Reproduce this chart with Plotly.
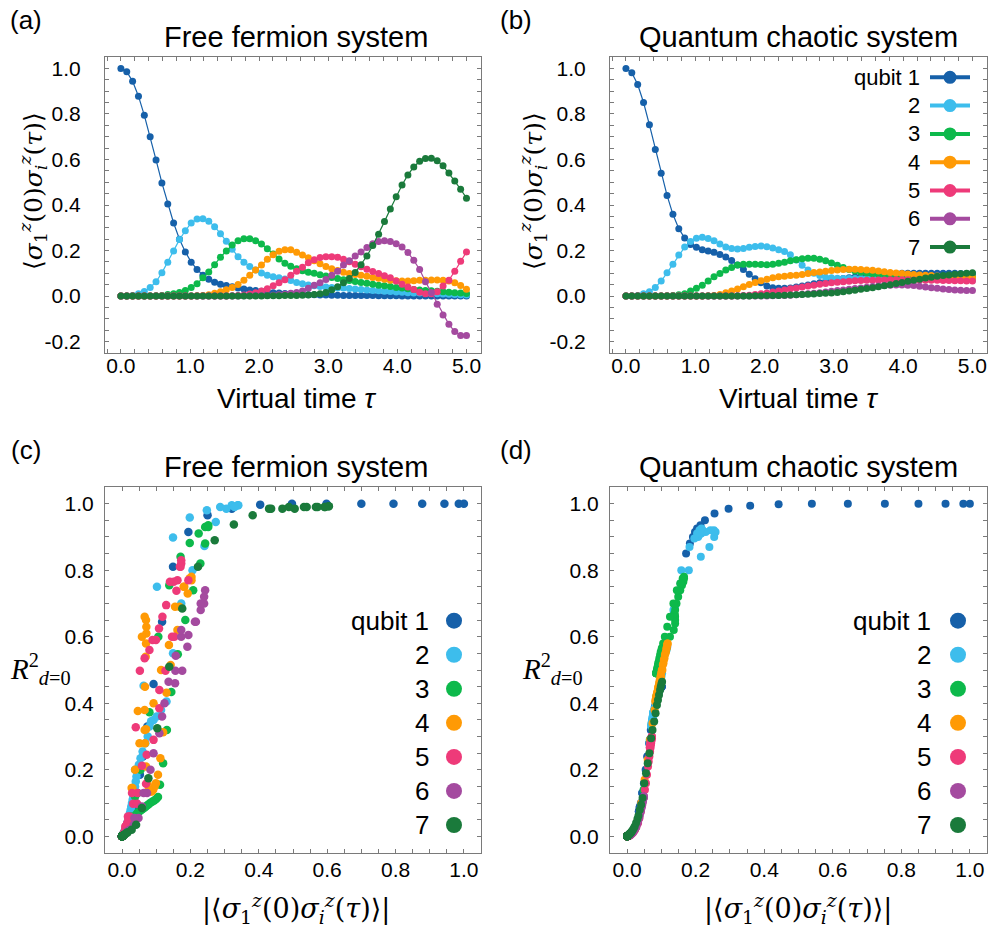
import numpy as np
import plotly.graph_objects as go

# ---------------- data ----------------
tau = np.linspace(0, 5, 60)
qubit_labels = ["qubit 1", "2", "3", "4", "5", "6", "7"]
colors = ["#1660a9", "#3dbdec", "#0db94b", "#ff9a05", "#ee3a79", "#a44a9f", "#1a7a3b"]

# (a) free fermion correlators
ff_corr_q1 = [1.000, 0.985, 0.943, 0.878, 0.794, 0.700, 0.598, 0.497, 0.404, 0.321,
              0.250, 0.194, 0.149, 0.117, 0.092, 0.074, 0.061, 0.052, 0.046, 0.041,
              0.036, 0.031, 0.027, 0.024, 0.021, 0.018, 0.015, 0.013, 0.011, 0.010,
              0.008, 0.007, 0.006, 0.006, 0.005, 0.005, 0.004, 0.004, 0.003, 0.003,
              0.003, 0.002, 0.002, 0.002, 0.001, 0.001, 0.001, 0.001, 0.000, 0.000,
              0.000, 0.000, 0.000, 0.000, 0.000, 0.000, 0.000, 0.000, 0.000, 0.000]
ff_corr_q2 = [0.000, 0.000, 0.003, 0.010, 0.020, 0.038, 0.063, 0.102, 0.149, 0.198,
              0.248, 0.287, 0.321, 0.338, 0.340, 0.329, 0.305, 0.274, 0.241, 0.206,
              0.173, 0.149, 0.130, 0.114, 0.101, 0.092, 0.085, 0.080, 0.075, 0.068,
              0.060, 0.054, 0.049, 0.045, 0.042, 0.040, 0.038, 0.036, 0.035, 0.033,
              0.031, 0.029, 0.027, 0.025, 0.023, 0.021, 0.020, 0.018, 0.017, 0.015,
              0.014, 0.013, 0.012, 0.011, 0.010, 0.009, 0.008, 0.007, 0.006, 0.005]
ff_corr_q3 = [0.000, 0.000, 0.000, 0.000, 0.000, 0.000, 0.001, 0.003, 0.007, 0.010,
              0.016, 0.025, 0.038, 0.054, 0.080, 0.106, 0.138, 0.171, 0.198, 0.224,
              0.243, 0.252, 0.252, 0.243, 0.229, 0.208, 0.185, 0.163, 0.144, 0.131,
              0.120, 0.111, 0.105, 0.100, 0.094, 0.088, 0.082, 0.077, 0.072, 0.068,
              0.064, 0.060, 0.056, 0.052, 0.048, 0.045, 0.042, 0.038, 0.035, 0.032,
              0.029, 0.027, 0.025, 0.023, 0.021, 0.019, 0.017, 0.015, 0.013, 0.011]
ff_corr_q4 = [0.000, 0.000, 0.000, 0.000, 0.000, 0.000, 0.000, 0.000, 0.000, 0.000,
              0.000, 0.000, 0.000, 0.001, 0.003, 0.006, 0.012, 0.019, 0.028, 0.038,
              0.051, 0.070, 0.092, 0.114, 0.137, 0.162, 0.182, 0.197, 0.203, 0.203,
              0.192, 0.180, 0.168, 0.155, 0.142, 0.130, 0.120, 0.112, 0.105, 0.099,
              0.095, 0.091, 0.087, 0.082, 0.078, 0.074, 0.070, 0.067, 0.066, 0.066,
              0.067, 0.069, 0.070, 0.071, 0.071, 0.070, 0.066, 0.058, 0.046, 0.030]
ff_corr_q5 = [0.000, 0.000, 0.000, 0.000, 0.000, 0.000, 0.000, 0.000, 0.000, 0.000,
              0.000, 0.000, 0.000, 0.000, 0.000, 0.000, 0.000, 0.000, 0.000, 0.001,
              0.002, 0.005, 0.009, 0.015, 0.022, 0.032, 0.045, 0.058, 0.072, 0.092,
              0.109, 0.127, 0.146, 0.159, 0.169, 0.173, 0.173, 0.171, 0.162, 0.151,
              0.140, 0.129, 0.118, 0.108, 0.099, 0.089, 0.080, 0.066, 0.052, 0.040,
              0.029, 0.017, 0.010, 0.010, 0.019, 0.044, 0.070, 0.109, 0.153, 0.194]
ff_corr_q6 = [0.000, 0.000, 0.000, 0.000, 0.000, 0.000, 0.000, 0.000, 0.000, 0.000,
              0.000, 0.000, 0.000, 0.000, 0.000, 0.000, 0.000, 0.000, 0.000, 0.000,
              0.000, 0.001, 0.001, 0.002, 0.002, 0.003, 0.004, 0.006, 0.008, 0.012,
              0.016, 0.022, 0.034, 0.048, 0.058, 0.073, 0.092, 0.109, 0.136, 0.155,
              0.176, 0.194, 0.213, 0.230, 0.240, 0.243, 0.240, 0.230, 0.216, 0.191,
              0.157, 0.117, 0.063, 0.016, -0.036, -0.083, -0.124, -0.156, -0.173, -0.173]
ff_corr_q7 = [0.000, 0.000, 0.000, 0.000, 0.000, 0.000, 0.000, 0.000, 0.000, 0.000,
              0.000, 0.000, 0.000, 0.000, 0.000, 0.000, 0.000, 0.000, 0.000, 0.000,
              0.000, 0.000, 0.000, 0.000, 0.000, 0.001, 0.001, 0.001, 0.002, 0.002,
              0.003, 0.004, 0.005, 0.007, 0.010, 0.016, 0.028, 0.041, 0.058, 0.077,
              0.103, 0.138, 0.176, 0.222, 0.271, 0.327, 0.382, 0.436, 0.488, 0.532,
              0.567, 0.592, 0.604, 0.605, 0.594, 0.572, 0.540, 0.505, 0.469, 0.430]

# (b) quantum chaotic correlators
ch_corr_q1 = [1.000, 0.981, 0.929, 0.850, 0.752, 0.644, 0.539, 0.442, 0.359, 0.296,
              0.255, 0.227, 0.214, 0.204, 0.198, 0.192, 0.183, 0.172, 0.156, 0.137,
              0.117, 0.096, 0.076, 0.059, 0.044, 0.037, 0.034, 0.034, 0.036, 0.040,
              0.044, 0.049, 0.054, 0.059, 0.064, 0.069, 0.073, 0.077, 0.081, 0.084,
              0.088, 0.091, 0.093, 0.095, 0.097, 0.098, 0.099, 0.100, 0.100, 0.100,
              0.100, 0.100, 0.100, 0.100, 0.100, 0.100, 0.100, 0.099, 0.099, 0.098]
ch_corr_q2 = [0.000, 0.000, 0.002, 0.010, 0.019, 0.038, 0.066, 0.102, 0.140, 0.180,
              0.215, 0.240, 0.254, 0.258, 0.253, 0.243, 0.229, 0.216, 0.209, 0.207,
              0.209, 0.214, 0.218, 0.220, 0.217, 0.211, 0.204, 0.196, 0.182, 0.158,
              0.135, 0.115, 0.100, 0.090, 0.083, 0.080, 0.078, 0.077, 0.077, 0.077,
              0.077, 0.077, 0.077, 0.077, 0.077, 0.077, 0.076, 0.076, 0.075, 0.075,
              0.074, 0.074, 0.073, 0.073, 0.072, 0.072, 0.071, 0.071, 0.070, 0.070]
ch_corr_q3 = [0.000, 0.000, 0.000, 0.000, 0.000, 0.000, 0.000, 0.001, 0.003, 0.006,
              0.010, 0.022, 0.034, 0.048, 0.066, 0.085, 0.099, 0.114, 0.125, 0.136,
              0.140, 0.140, 0.140, 0.139, 0.138, 0.140, 0.144, 0.149, 0.155, 0.160,
              0.164, 0.166, 0.166, 0.162, 0.155, 0.145, 0.135, 0.125, 0.117, 0.110,
              0.105, 0.101, 0.098, 0.096, 0.094, 0.092, 0.091, 0.090, 0.089, 0.088,
              0.087, 0.087, 0.086, 0.086, 0.085, 0.085, 0.085, 0.085, 0.085, 0.085]
ch_corr_q4 = [0.000, 0.000, 0.000, 0.000, 0.000, 0.000, 0.000, 0.000, 0.000, 0.000,
              0.000, 0.000, 0.000, 0.000, 0.001, 0.003, 0.007, 0.015, 0.022, 0.031,
              0.041, 0.051, 0.060, 0.067, 0.074, 0.080, 0.085, 0.087, 0.090, 0.092,
              0.095, 0.099, 0.103, 0.106, 0.109, 0.112, 0.115, 0.117, 0.118, 0.118,
              0.117, 0.115, 0.113, 0.110, 0.107, 0.104, 0.101, 0.099, 0.097, 0.095,
              0.093, 0.091, 0.090, 0.088, 0.087, 0.086, 0.085, 0.084, 0.083, 0.082]
ch_corr_q5 = [0.000, 0.000, 0.000, 0.000, 0.000, 0.000, 0.000, 0.000, 0.000, 0.000,
              0.000, 0.000, 0.000, 0.000, 0.000, 0.000, 0.000, 0.000, 0.000, 0.001,
              0.002, 0.004, 0.007, 0.010, 0.014, 0.018, 0.022, 0.027, 0.032, 0.036,
              0.040, 0.044, 0.048, 0.052, 0.055, 0.058, 0.061, 0.063, 0.065, 0.067,
              0.068, 0.069, 0.070, 0.071, 0.071, 0.072, 0.072, 0.072, 0.072, 0.071,
              0.071, 0.070, 0.070, 0.069, 0.068, 0.068, 0.067, 0.067, 0.066, 0.066]
ch_corr_q6 = [0.000, 0.000, 0.000, 0.000, 0.000, 0.000, 0.000, 0.000, 0.000, 0.000,
              0.000, 0.000, 0.000, 0.000, 0.000, 0.000, 0.000, 0.000, 0.000, 0.000,
              0.000, 0.000, 0.000, 0.000, 0.000, 0.001, 0.002, 0.003, 0.004, 0.006,
              0.008, 0.010, 0.012, 0.015, 0.018, 0.021, 0.024, 0.027, 0.030, 0.033,
              0.036, 0.039, 0.042, 0.044, 0.046, 0.048, 0.049, 0.049, 0.048, 0.046,
              0.043, 0.040, 0.037, 0.034, 0.031, 0.029, 0.027, 0.026, 0.025, 0.025]
ch_corr_q7 = [0.000, 0.000, 0.000, 0.000, 0.000, 0.000, 0.000, 0.000, 0.000, 0.000,
              0.000, 0.000, 0.000, 0.000, 0.000, 0.000, 0.000, 0.000, 0.000, 0.000,
              0.000, 0.000, 0.001, 0.001, 0.002, 0.002, 0.003, 0.004, 0.005, 0.006,
              0.007, 0.008, 0.009, 0.011, 0.012, 0.014, 0.016, 0.019, 0.022, 0.026,
              0.030, 0.033, 0.037, 0.041, 0.045, 0.050, 0.055, 0.060, 0.065, 0.070,
              0.074, 0.079, 0.083, 0.087, 0.090, 0.093, 0.096, 0.098, 0.100, 0.102]

# (c) free fermion R^2_{d=0}
ff_r2_q1 = [1.000, 1.000, 1.000, 1.000, 1.000, 1.000, 1.000, 1.000, 0.997, 0.985,
            0.965, 0.915, 0.810, 0.645, 0.458, 0.330, 0.240, 0.185, 0.130, 0.100,
            0.080, 0.065, 0.055, 0.045, 0.040, 0.035, 0.030, 0.025, 0.020, 0.018,
            0.014, 0.012, 0.010, 0.010, 0.008, 0.008, 0.006, 0.006, 0.005, 0.005,
            0.004, 0.003, 0.003, 0.003, 0.002, 0.002, 0.002, 0.002, 0.000, 0.000,
            0.000, 0.000, 0.000, 0.000, 0.000, 0.000, 0.000, 0.000, 0.000, 0.000]
ff_r2_q2 = [0.000, 0.000, 0.002, 0.010, 0.050, 0.200, 0.453, 0.750, 0.898, 0.958,
            0.980, 0.990, 0.995, 0.995, 0.995, 0.990, 0.985, 0.945, 0.873, 0.800,
            0.700, 0.550, 0.405, 0.380, 0.360, 0.350, 0.346, 0.330, 0.300, 0.280,
            0.255, 0.235, 0.215, 0.195, 0.180, 0.165, 0.150, 0.140, 0.130, 0.120,
            0.110, 0.100, 0.090, 0.080, 0.070, 0.062, 0.055, 0.050, 0.045, 0.040,
            0.035, 0.030, 0.027, 0.024, 0.021, 0.018, 0.015, 0.012, 0.010, 0.008]
ff_r2_q3 = [0.000, 0.000, 0.000, 0.000, 0.000, 0.000, 0.002, 0.005, 0.010, 0.015,
            0.030, 0.060, 0.120, 0.200, 0.373, 0.600, 0.755, 0.840, 0.882, 0.910,
            0.930, 0.935, 0.930, 0.880, 0.820, 0.740, 0.650, 0.547, 0.434, 0.320,
            0.220, 0.155, 0.118, 0.112, 0.108, 0.104, 0.100, 0.096, 0.092, 0.088,
            0.085, 0.082, 0.079, 0.076, 0.073, 0.070, 0.066, 0.062, 0.058, 0.054,
            0.050, 0.046, 0.042, 0.038, 0.034, 0.030, 0.026, 0.022, 0.018, 0.015]
ff_r2_q4 = [0.000, 0.000, 0.000, 0.000, 0.000, 0.000, 0.000, 0.000, 0.000, 0.000,
            0.000, 0.000, 0.000, 0.001, 0.003, 0.008, 0.020, 0.050, 0.145, 0.200,
            0.280, 0.322, 0.400, 0.500, 0.575, 0.620, 0.750, 0.775, 0.780, 0.770,
            0.730, 0.750, 0.690, 0.690, 0.515, 0.432, 0.313, 0.235, 0.185, 0.160,
            0.150, 0.140, 0.135, 0.135, 0.140, 0.160, 0.210, 0.280, 0.320, 0.380,
            0.450, 0.540, 0.580, 0.610, 0.630, 0.650, 0.660, 0.600, 0.377, 0.145]
ff_r2_q5 = [0.000, 0.000, 0.000, 0.000, 0.000, 0.000, 0.000, 0.000, 0.000, 0.000,
            0.000, 0.000, 0.000, 0.000, 0.000, 0.000, 0.000, 0.000, 0.000, 0.000,
            0.002, 0.010, 0.020, 0.040, 0.060, 0.098, 0.130, 0.212, 0.245, 0.290,
            0.385, 0.498, 0.600, 0.738, 0.810, 0.830, 0.820, 0.810, 0.770, 0.765,
            0.765, 0.695, 0.660, 0.625, 0.590, 0.590, 0.560, 0.535, 0.498, 0.328,
            0.130, 0.060, 0.030, 0.030, 0.050, 0.098, 0.158, 0.440, 0.600, 0.770]
ff_r2_q6 = [0.000, 0.000, 0.000, 0.000, 0.000, 0.000, 0.000, 0.000, 0.000, 0.000,
            0.000, 0.000, 0.000, 0.000, 0.000, 0.000, 0.000, 0.000, 0.000, 0.000,
            0.000, 0.000, 0.000, 0.001, 0.001, 0.002, 0.003, 0.005, 0.007, 0.010,
            0.014, 0.020, 0.035, 0.055, 0.090, 0.130, 0.250, 0.310, 0.465, 0.460,
            0.498, 0.605, 0.645, 0.680, 0.700, 0.740, 0.720, 0.700, 0.645, 0.570,
            0.543, 0.360, 0.130, 0.015, 0.055, 0.200, 0.400, 0.498, 0.600, 0.620]
ff_r2_q7 = [0.000, 0.000, 0.000, 0.000, 0.000, 0.000, 0.000, 0.000, 0.000, 0.000,
            0.000, 0.000, 0.000, 0.000, 0.000, 0.000, 0.000, 0.000, 0.000, 0.000,
            0.000, 0.000, 0.000, 0.000, 0.000, 0.001, 0.001, 0.001, 0.001, 0.002,
            0.002, 0.003, 0.004, 0.005, 0.008, 0.012, 0.020, 0.035, 0.085, 0.175,
            0.325, 0.510, 0.685, 0.810, 0.890, 0.937, 0.965, 0.985, 0.990, 0.990,
            0.990, 0.990, 0.992, 0.992, 0.990, 0.990, 0.990, 0.985, 0.985, 0.985]

# (d) quantum chaotic R^2_{d=0}
ch_r2_q1 = [1.000, 1.000, 1.000, 1.000, 1.000, 1.000, 1.000, 0.998, 0.994, 0.985,
            0.970, 0.950, 0.935, 0.925, 0.915, 0.900, 0.880, 0.850, 0.760, 0.670,
            0.570, 0.460, 0.360, 0.240, 0.130, 0.090, 0.075, 0.075, 0.085, 0.100,
            0.130, 0.160, 0.200, 0.240, 0.280, 0.320, 0.345, 0.370, 0.390, 0.405,
            0.420, 0.430, 0.435, 0.440, 0.445, 0.450, 0.450, 0.450, 0.450, 0.450,
            0.450, 0.450, 0.450, 0.450, 0.450, 0.450, 0.450, 0.448, 0.448, 0.446]
ch_r2_q2 = [0.000, 0.000, 0.001, 0.005, 0.015, 0.080, 0.280, 0.490, 0.690, 0.800,
            0.840, 0.870, 0.900, 0.915, 0.920, 0.920, 0.915, 0.910, 0.905, 0.900,
            0.905, 0.910, 0.915, 0.920, 0.925, 0.920, 0.910, 0.895, 0.870, 0.800,
            0.680, 0.560, 0.480, 0.430, 0.400, 0.385, 0.378, 0.372, 0.372, 0.372,
            0.372, 0.372, 0.372, 0.372, 0.372, 0.372, 0.368, 0.368, 0.362, 0.362,
            0.356, 0.356, 0.350, 0.350, 0.344, 0.344, 0.338, 0.338, 0.332, 0.332]
ch_r2_q3 = [0.000, 0.000, 0.000, 0.000, 0.000, 0.000, 0.000, 0.001, 0.002, 0.004,
            0.008, 0.020, 0.060, 0.140, 0.290, 0.420, 0.480, 0.560, 0.600, 0.620,
            0.640, 0.650, 0.660, 0.665, 0.670, 0.680, 0.700, 0.720, 0.740, 0.755,
            0.765, 0.775, 0.780, 0.775, 0.760, 0.740, 0.700, 0.660, 0.630, 0.600,
            0.580, 0.565, 0.555, 0.545, 0.535, 0.525, 0.520, 0.515, 0.510, 0.505,
            0.500, 0.500, 0.495, 0.495, 0.490, 0.490, 0.490, 0.490, 0.490, 0.490]
ch_r2_q4 = [0.000, 0.000, 0.000, 0.000, 0.000, 0.000, 0.000, 0.000, 0.000, 0.000,
            0.000, 0.000, 0.000, 0.000, 0.001, 0.002, 0.004, 0.010, 0.020, 0.050,
            0.100, 0.170, 0.230, 0.290, 0.340, 0.380, 0.410, 0.425, 0.440, 0.450,
            0.465, 0.480, 0.500, 0.520, 0.535, 0.550, 0.565, 0.575, 0.580, 0.580,
            0.575, 0.565, 0.555, 0.545, 0.530, 0.515, 0.500, 0.490, 0.480, 0.470,
            0.460, 0.450, 0.445, 0.435, 0.430, 0.425, 0.420, 0.415, 0.410, 0.405]
ch_r2_q5 = [0.000, 0.000, 0.000, 0.000, 0.000, 0.000, 0.000, 0.000, 0.000, 0.000,
            0.000, 0.000, 0.000, 0.000, 0.000, 0.000, 0.000, 0.000, 0.000, 0.000,
            0.000, 0.001, 0.002, 0.004, 0.008, 0.012, 0.018, 0.028, 0.040, 0.055,
            0.075, 0.095, 0.115, 0.140, 0.160, 0.185, 0.210, 0.225, 0.240, 0.255,
            0.265, 0.272, 0.280, 0.287, 0.290, 0.295, 0.298, 0.300, 0.300, 0.298,
            0.295, 0.292, 0.290, 0.285, 0.280, 0.278, 0.274, 0.272, 0.268, 0.266]
ch_r2_q6 = [0.000, 0.000, 0.000, 0.000, 0.000, 0.000, 0.000, 0.000, 0.000, 0.000,
            0.000, 0.000, 0.000, 0.000, 0.000, 0.000, 0.000, 0.000, 0.000, 0.000,
            0.000, 0.000, 0.000, 0.000, 0.000, 0.000, 0.001, 0.001, 0.002, 0.003,
            0.004, 0.005, 0.007, 0.010, 0.014, 0.019, 0.025, 0.032, 0.040, 0.050,
            0.060, 0.072, 0.085, 0.095, 0.105, 0.115, 0.120, 0.120, 0.115, 0.105,
            0.090, 0.078, 0.066, 0.055, 0.045, 0.038, 0.032, 0.029, 0.027, 0.027]
ch_r2_q7 = [0.000, 0.000, 0.000, 0.000, 0.000, 0.000, 0.000, 0.000, 0.000, 0.000,
            0.000, 0.000, 0.000, 0.000, 0.000, 0.000, 0.000, 0.000, 0.000, 0.000,
            0.000, 0.000, 0.001, 0.001, 0.002, 0.002, 0.003, 0.004, 0.005, 0.006,
            0.007, 0.008, 0.009, 0.011, 0.012, 0.015, 0.018, 0.024, 0.030, 0.040,
            0.052, 0.062, 0.080, 0.095, 0.115, 0.160, 0.190, 0.220, 0.250, 0.295,
            0.320, 0.345, 0.370, 0.395, 0.410, 0.425, 0.440, 0.450, 0.458, 0.465]

ff_corr = [ff_corr_q1, ff_corr_q2, ff_corr_q3, ff_corr_q4, ff_corr_q5, ff_corr_q6, ff_corr_q7]
ch_corr = [ch_corr_q1, ch_corr_q2, ch_corr_q3, ch_corr_q4, ch_corr_q5, ch_corr_q6, ch_corr_q7]
ff_r2 = [ff_r2_q1, ff_r2_q2, ff_r2_q3, ff_r2_q4, ff_r2_q5, ff_r2_q6, ff_r2_q7]
ch_r2 = [ch_r2_q1, ch_r2_q2, ch_r2_q3, ch_r2_q4, ch_r2_q5, ch_r2_q6, ch_r2_q7]

# ---------------- figure ----------------
W, H = 995, 932
SANS = "Liberation Sans, Arial, Helvetica, sans-serif"
SERIF = "DejaVu Serif, Liberation Serif, serif"
RSERIF = "Liberation Serif, DejaVu Serif, serif"

def px(x):
    return x / W

def py(y):
    return 1 - y / H

fig = go.Figure()

for i in range(7):
    fig.add_trace(go.Scatter(x=tau, y=ff_corr[i], mode="lines+markers", xaxis="x", yaxis="y",
                             line=dict(color=colors[i], width=1.2),
                             marker=dict(size=7, color=colors[i]), showlegend=False,
                             name=qubit_labels[i]))
for i in range(7):
    fig.add_trace(go.Scatter(x=tau, y=ch_corr[i], mode="lines+markers", xaxis="x2", yaxis="y2",
                             line=dict(color=colors[i], width=1.2),
                             marker=dict(size=7, color=colors[i]), showlegend=False,
                             name=qubit_labels[i]))
for i in range(7):
    fig.add_trace(go.Scatter(x=np.abs(np.array(ff_corr[i])), y=ff_r2[i], mode="markers",
                             xaxis="x3", yaxis="y3",
                             marker=dict(size=8.5, color=colors[i]), showlegend=False,
                             name=qubit_labels[i]))
for i in range(7):
    fig.add_trace(go.Scatter(x=np.abs(np.array(ch_corr[i])), y=ch_r2[i], mode="markers",
                             xaxis="x4", yaxis="y4",
                             marker=dict(size=8, color=colors[i]), showlegend=False,
                             name=qubit_labels[i]))

AX = dict(showline=True, linecolor="#7a7a7a", linewidth=1, mirror="allticks",
          ticks="inside", ticklen=4, tickcolor="#7a7a7a", showgrid=False, zeroline=False,
          tickfont=dict(family=SANS, size=21, color="black"))

tvals_t = [0, 1, 2, 3, 4, 5]
ttext_t = ["0.0", "1.0", "2.0", "3.0", "4.0", "5.0"]
tvals_c = [-0.2, 0.0, 0.2, 0.4, 0.6, 0.8, 1.0]
ttext_c = ["-0.2", "0.0", "0.2", "0.4", "0.6", "0.8", "1.0"]
tvals_u = [0.0, 0.2, 0.4, 0.6, 0.8, 1.0]
ttext_u = ["0.0", "0.2", "0.4", "0.6", "0.8", "1.0"]

dom_x_left = [px(105), px(481)]
dom_x_right = [px(610), px(987)]
dom_y_top = [py(353), py(57)]
dom_y_bot = [py(853), py(487)]

def ax(dom, anchor, tv, tt, rng, minor, standoff):
    d = dict(AX)
    d.update(domain=dom, anchor=anchor, range=rng, tickvals=tv, ticktext=tt,
             ticklabelstandoff=standoff,
             minor=dict(dtick=minor, tick0=0, ticks="inside", ticklen=4, tickcolor="#7a7a7a"))
    return d

fig.update_layout(
    width=W, height=H, margin=dict(l=0, r=0, t=0, b=0),
    paper_bgcolor="white", plot_bgcolor="white", showlegend=False,
    xaxis=ax(dom_x_left, "y", tvals_t, ttext_t, [-0.23, 5.21], 0.2, -6),
    yaxis=ax(dom_y_top, "x", tvals_c, ttext_c, [-0.25, 1.05], 0.05, 19),
    xaxis2=ax(dom_x_right, "y2", tvals_t, ttext_t, [-0.23, 5.21], 0.2, -6),
    yaxis2=ax(dom_y_top, "x2", tvals_c, ttext_c, [-0.25, 1.05], 0.05, 19),
    xaxis3=ax(dom_x_left, "y3", tvals_u, ttext_u, [-0.05, 1.05], 0.05, -2),
    yaxis3=ax(dom_y_bot, "x3", tvals_u, ttext_u, [-0.05, 1.05], 0.05, 6),
    xaxis4=ax(dom_x_right, "y4", tvals_u, ttext_u, [-0.05, 1.05], 0.05, -2),
    yaxis4=ax(dom_y_bot, "x4", tvals_u, ttext_u, [-0.05, 1.05], 0.05, 6),
)

ann = []
def text(x, y, s, size, family=SANS, xanchor="center", angle=0):
    ann.append(dict(x=px(x), y=py(y), xref="paper", yref="paper", text=s, showarrow=False,
                    xanchor=xanchor, yanchor="middle", textangle=angle,
                    font=dict(family=family, size=size, color="black")))

# panel labels and titles
text(26, 20, "(a)", 26)
text(516, 20, "(b)", 26)
text(26, 450, "(c)", 26)
text(516, 450, "(d)", 26)
text(296, 37, "Free fermion system", 29)
text(798, 37, "Quantum chaotic system", 29)
text(296, 467, "Free fermion system", 29)
text(798, 467, "Quantum chaotic system", 29)

# axis titles
corr = "⟨<i>σ</i><sub>1</sub><sup><i>z</i></sup>(0)<i>σ</i><sub><i>i</i></sub><sup><i>z</i></sup>(<i>τ</i>)⟩"
text(296, 399, "Virtual time <i>τ</i>", 28)
text(798, 399, "Virtual time <i>τ</i>", 28)
text(33, 191, corr, 25, family=SERIF, angle=-90)
text(533, 191, corr, 25, family=SERIF, angle=-90)
text(296, 908, "|" + corr + "|", 27, family=SERIF)
text(798, 908, "|" + corr + "|", 27, family=SERIF)
r2 = "<i>R</i><sup>2</sup><sub><i>d</i>=0</sub>"
text(40, 669, r2, 29, family=RSERIF)
text(552, 669, r2, 29, family=RSERIF)

shapes = []
# legend for (b): line + marker
for i in range(7):
    yy = 77.3 + 28.3 * i
    text(922, yy, qubit_labels[i], 22, xanchor="right")
    shapes.append(dict(type="line", xref="paper", yref="paper", x0=px(930), x1=px(970),
                       y0=py(yy), y1=py(yy), line=dict(color=colors[i], width=4)))
    shapes.append(dict(type="circle", xref="paper", yref="paper", xsizemode="pixel",
                       ysizemode="pixel", xanchor=px(950), yanchor=py(yy),
                       x0=-6.5, x1=6.5, y0=-6.5, y1=6.5, fillcolor=colors[i],
                       line=dict(width=0)))
# legends for (c) and (d): markers only
for (tx, cx) in [(431, 454), (933, 958)]:
    for i in range(7):
        yy = 620.7 + 34.05 * i
        text(tx, yy, qubit_labels[i], 26, xanchor="right")
        shapes.append(dict(type="circle", xref="paper", yref="paper", xsizemode="pixel",
                           ysizemode="pixel", xanchor=px(cx), yanchor=py(yy),
                           x0=-8, x1=8, y0=-8, y1=8, fillcolor=colors[i],
                           line=dict(width=0)))

fig.update_layout(annotations=ann, shapes=shapes)
fig.write_html("out.html")
